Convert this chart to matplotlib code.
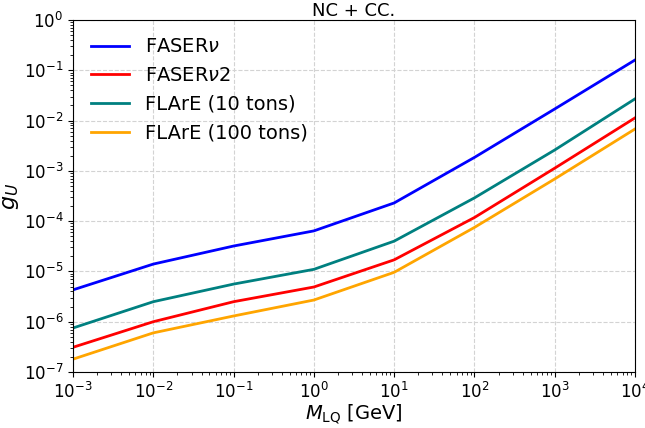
import numpy as np
import matplotlib
matplotlib.use('Agg')
import matplotlib.pyplot as plt

# LQ mass points (GeV)
masses = [1e-3, 1e-2, 1e-1, 1e0, 1e1, 1e2, 1e3, 1e4]

# coupling limits
g_fasernu = [4.3e-6, 1.4e-5, 3.2e-5, 6.4e-5, 2.3e-4, 1.85e-3, 1.7e-2, 0.16]
g_fasernu2 = [3.1e-7, 1.0e-6, 2.5e-6, 4.9e-6, 1.7e-5, 1.18e-4, 1.13e-3, 1.13e-2]
g_flare10 = [7.5e-7, 2.5e-6, 5.6e-6, 1.1e-5, 4.0e-5, 2.9e-4, 2.6e-3, 2.7e-2]
g_flare100 = [1.8e-7, 6.0e-7, 1.3e-6, 2.7e-6, 9.6e-6, 7.5e-5, 6.9e-4, 6.8e-3]

labels = [r'FASER$\nu$', r'FASER$\nu$2', 'FLArE (10 tons)', 'FLArE (100 tons)']
colors = ['blue', 'red', 'teal', 'orange']

fig = plt.figure(figsize=(6.45, 4.28), dpi=100)
ax = fig.add_axes([73/645, 1 - 372/428, 562/645, 352/428])

for g, lab, c in zip([g_fasernu, g_fasernu2, g_flare10, g_flare100], labels, colors):
    ax.plot(masses, g, color=c, lw=2, label=lab)

ax.set_xscale('log')
ax.set_yscale('log')
ax.set_xlim(1e-3, 1e4)
ax.set_ylim(1e-7, 1e0)
ax.grid(True, which='major', linestyle='--', color='lightgray', lw=0.8)
ax.tick_params(labelsize=12)
ax.set_xlabel(r'$M_{\rm LQ}$ [GeV]', fontsize=14, labelpad=1)
ax.set_ylabel(r'$g_U$', fontsize=16, labelpad=2)
ax.set_title('NC + CC.', fontsize=13, pad=3)
ax.legend(loc='upper left', frameon=False, fontsize=14)

plt.savefig('out.png', dpi=100)
